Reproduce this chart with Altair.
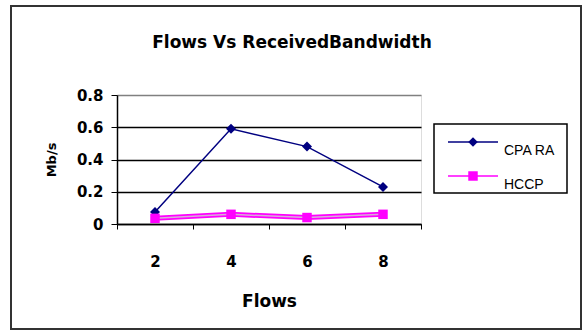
import altair as alt
import pandas as pd

# Flow counts and received bandwidth (Mb/s) per scheme
flows = ["2", "4", "6", "8"]
cpa_ra = [0.075, 0.59, 0.48, 0.23]
hccp = [0.035, 0.06, 0.04, 0.06]
series = ["CPA RA", "HCCP"]
colors = ["#000080", "#ff00ff"]
shapes = ["diamond", "square"]
y_ticks = [0, 0.2, 0.4, 0.6, 0.8]

df = pd.DataFrame({
    "Flows": flows * 2,
    "value": cpa_ra + hccp,
    "series": [series[0]] * len(flows) + [series[1]] * len(flows),
})

FONT = "DejaVu Sans"

x_enc = alt.X(
    "Flows:O",
    sort=flows,
    scale=alt.Scale(type="band", paddingInner=0, paddingOuter=0),
    axis=alt.Axis(
        title="Flows", labelAngle=0, tickBand="extent", tickSize=5,
        tickColor="black", domainColor="black", domainWidth=1.5,
        labelPadding=25, titlePadding=24, labelFont=FONT, labelFontSize=15,
        labelFontWeight="bold", titleFont=FONT, titleFontSize=17,
        titleFontWeight="bold", labelColor="black", titleColor="black",
    ),
)
y_enc = alt.Y(
    "value:Q",
    scale=alt.Scale(domain=[0, 0.8], nice=False),
    axis=alt.Axis(
        title="Mb/s", values=y_ticks, format="~g", tickSize=6,
        tickColor="black", domainColor="black", domainWidth=1.5,
        gridColor={"condition": {"test": "datum.value >= 0.79", "value": "#808080"},
                   "value": "#000000"},
        gridWidth=1.5, labelPadding=8, titlePadding=18,
        labelFont=FONT, labelFontSize=15, labelFontWeight="bold",
        titleFont=FONT, titleFontSize=13, titleFontWeight="bold",
        labelColor="black", titleColor="black",
    ),
)

base = alt.Chart(df)

cpa = base.transform_filter(alt.datum.series == series[0])
hc = base.transform_filter(alt.datum.series == series[1])

cpa_line = cpa.mark_line(color=colors[0], strokeWidth=1.5).encode(x=x_enc, y=y_enc)
cpa_pts = cpa.mark_point(shape=shapes[0], filled=True, size=100, color=colors[0], opacity=1).encode(x=x_enc, y=y_enc)

hc_outer = hc.mark_line(color=colors[1], strokeWidth=5).encode(x=x_enc, y=y_enc)
hc_inner = hc.mark_line(color="#d8b0d8", strokeWidth=1.5).encode(x=x_enc, y=y_enc)
hc_pts = hc.mark_point(shape=shapes[1], filled=True, size=90, color=colors[1], opacity=1).encode(x=x_enc, y=y_enc)

# outer frame of the whole figure
frame = alt.Chart(pd.DataFrame({"a": [0]})).mark_rect(
    fill=None, stroke="#333333", strokeWidth=2
).encode(x=alt.value(-106), x2=alt.value(464), y=alt.value(-89), y2=alt.value(234))

# legend box and entries
legend_box = alt.Chart(pd.DataFrame({"a": [0]})).mark_rect(
    fill="white", stroke="black", strokeWidth=1.5
).encode(x=alt.value(317), x2=alt.value(450), y=alt.value(29), y2=alt.value(98))

legend_layers = [legend_box]
for i, (name, col, shp) in enumerate(zip(series, colors, shapes)):
    item = alt.Chart(pd.DataFrame({"label": [name]}))
    yy = 47 + 34 * i
    legend_layers.append(
        item.mark_rule(color=col, strokeWidth=1.5).encode(
            x=alt.value(331), x2=alt.value(381), y=alt.value(yy)))
    legend_layers.append(
        item.mark_point(shape=shp, filled=True, size=90, color=col, opacity=1).encode(
            x=alt.value(356), y=alt.value(yy)))
    legend_layers.append(
        item.mark_text(align="left", baseline="middle", font="Liberation Sans",
                       fontSize=14, color="black").encode(
            x=alt.value(387), y=alt.value(yy + 9), text="label:N"))

chart = alt.layer(
    frame, cpa_line, cpa_pts, hc_outer, hc_inner, hc_pts, *legend_layers
).properties(
    width=304,
    height=129,
    title=alt.TitleParams(
        "Flows  Vs  ReceivedBandwidth", font=FONT, fontSize=17,
        fontWeight="bold", anchor="middle", frame="group", dx=23,
        offset=-64, baseline="bottom", color="black",
    ),
    autosize=alt.AutoSizeParams(type="none"),
    padding={"left": 117, "top": 95, "right": 162, "bottom": 107},
).configure_view(
    fill="#c0c0c0", stroke="#808080", strokeWidth=1.5
).configure(background="white")

chart.save("out.html", embed_options={"renderer": "svg", "actions": False})
